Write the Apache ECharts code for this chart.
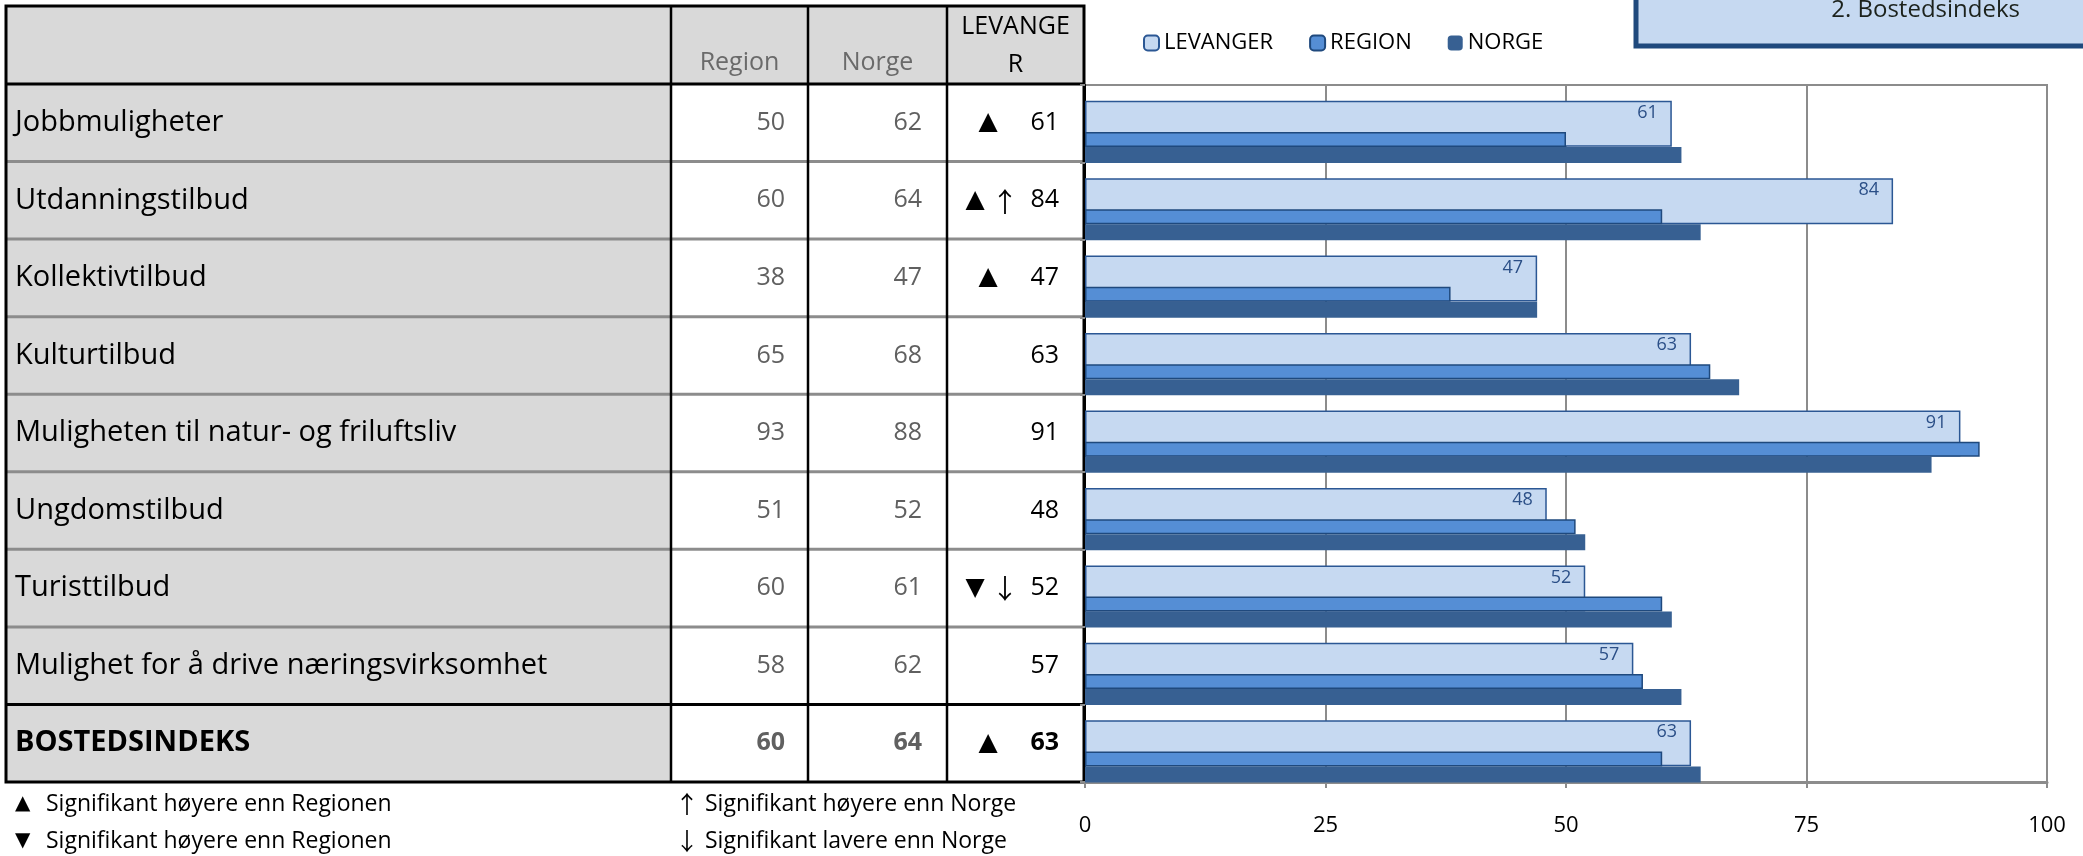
<!DOCTYPE html>
<html>
<head>
<meta charset="utf-8">
<script src="https://cdn.jsdelivr.net/npm/echarts@6/dist/echarts.min.js"></script>
<style>
html,body{margin:0;padding:0;background:#fff}
#main{width:2083px;height:856px}
</style>
</head>
<body>
<div id="main"></div>
<script>
// data
var categories = ['Jobbmuligheter', 'Utdanningstilbud', 'Kollektivtilbud', 'Kulturtilbud',
	'Muligheten til natur- og friluftsliv', 'Ungdomstilbud', 'Turisttilbud',
	'Mulighet for å drive næringsvirksomhet', 'BOSTEDSINDEKS'];
var levanger = [61, 84, 47, 63, 91, 48, 52, 57, 63];
var region = [50, 60, 38, 65, 93, 51, 60, 58, 60];
var norge = [62, 64, 47, 68, 88, 52, 61, 62, 64];
// significance marks shown in the LEVANGER column
var sigRegion = ['▲', '▲', '▲', '', '', '', '▼', '', '▲'];
var sigNorge = ['', '↑', '', '', '', '', '↓', '', ''];
var colHeads = ['Region', 'Norge', 'LEVANGE\nR'];
var legendNames = ['LEVANGER', 'REGION', 'NORGE'];
var notesLeft = [['▲', 'Signifikant høyere enn Regionen'], ['▼', 'Signifikant høyere enn Regionen']];
var notesRight = [['↑', 'Signifikant høyere enn Norge'], ['↓', 'Signifikant lavere enn Norge']];
var boxTitle = '2. Bostedsindeks';

var FONT = '"Open Sans", "Liberation Sans", sans-serif';
var SYM = '"DejaVu Sans", "Liberation Sans", sans-serif';
var ARROW = '"Noto Sans CJK SC", "DejaVu Sans", sans-serif';

var chartTable = {
	init: function()
	{
		var myChart = echarts.init(document.getElementById('main'));

		// table geometry
		var tL = 6, tR = 1084, tT = 6, hB = 84, tB = 782;
		var cols = [6, 671, 808, 947, 1084];
		var n = categories.length;
		var rowH = (tB - hB) / n;
		var g = [];

		g.push({type: 'rect', shape: {x: tL, y: tT, width: tR - tL, height: hB - tT}, style: {fill: '#D9D9D9'}});
		g.push({type: 'rect', shape: {x: tL, y: hB, width: cols[1] - tL, height: tB - hB}, style: {fill: '#D9D9D9'}});

		// row lines
		for (var k = 1; k < n; k++) {
			var y = hB + k * rowH;
			g.push({type: 'line', shape: {x1: tL, y1: y, x2: tR, y2: y},
				style: {stroke: k == n - 1 ? '#000' : '#8C8C8C', lineWidth: 3}});
		}
		g.push({type: 'line', shape: {x1: tL, y1: hB, x2: tR, y2: hB}, style: {stroke: '#000', lineWidth: 3}});
		for (var c = 1; c < cols.length - 1; c++) {
			g.push({type: 'line', shape: {x1: cols[c], y1: tT, x2: cols[c], y2: tB}, style: {stroke: '#000', lineWidth: 2.5}});
		}
		g.push({type: 'rect', shape: {x: tL, y: tT, width: tR - tL, height: tB - tT},
			style: {fill: null, stroke: '#000', lineWidth: 3}});

		// header
		for (var h = 0; h < colHeads.length; h++) {
			var last = h == colHeads.length - 1;
			g.push({type: 'text', x: (cols[h + 1] + cols[h + 2]) / 2, y: last ? 46 : 63,
				style: {text: colHeads[h], font: '25px ' + FONT, fill: last ? '#000' : '#6a6a6a',
					textAlign: 'center', textVerticalAlign: 'middle', lineHeight: 38}});
		}

		// rows
		for (var i = 0; i < n; i++) {
			var cy = hB + (i + 0.5) * rowH;
			var bold = i == n - 1 ? 'bold ' : '';
			g.push({type: 'text', x: 15, y: cy, style: {text: categories[i], font: bold + '29px ' + FONT,
				fill: '#000', textAlign: 'left', textVerticalAlign: 'middle'}});
			g.push({type: 'text', x: 785, y: cy, style: {text: String(region[i]), font: bold + '25px ' + FONT,
				fill: '#606060', textAlign: 'right', textVerticalAlign: 'middle'}});
			g.push({type: 'text', x: 922, y: cy, style: {text: String(norge[i]), font: bold + '25px ' + FONT,
				fill: '#606060', textAlign: 'right', textVerticalAlign: 'middle'}});
			g.push({type: 'text', x: 1059, y: cy, style: {text: String(levanger[i]), font: bold + '25px ' + FONT,
				fill: '#000', textAlign: 'right', textVerticalAlign: 'middle'}});
			if (sigRegion[i]) {
				g.push({type: 'text', x: sigNorge[i] ? 975 : 988, y: cy, style: {text: sigRegion[i], font: '25px ' + SYM,
					fill: '#000', textAlign: 'center', textVerticalAlign: 'middle'}});
			}
			if (sigNorge[i]) {
				g.push({type: 'text', x: 1005, y: cy + 1, style: {text: sigNorge[i], font: '27px ' + ARROW,
					fill: '#000', textAlign: 'center', textVerticalAlign: 'middle'}});
			}
		}

		// footnotes
		var notes = [[15, notesLeft, 'tri'], [675, notesRight, 'arr']];
		for (var s = 0; s < notes.length; s++) {
			for (var f = 0; f < notes[s][1].length; f++) {
				g.push({type: 'text', x: notes[s][0], y: 804 + f * 37, style: {
					text: '{' + notes[s][2] + '|' + notes[s][1][f][0] + '}{t|' + notes[s][1][f][1] + '}',
					font: '23px ' + FONT, fill: '#000', textAlign: 'left', textVerticalAlign: 'middle',
					rich: {
						tri: {fontFamily: SYM, fontSize: 20, fill: '#000', width: 31},
						arr: {fontFamily: ARROW, fontSize: 24, fill: '#000', width: 30},
						t: {fontFamily: FONT, fontSize: 23, fill: '#000'}
					}}});
			}
		}

		// box top right
		g.push({type: 'rect', shape: {x: 1636, y: -12, width: 520, height: 58},
			style: {fill: '#C6D9F1', stroke: '#1F497D', lineWidth: 5}});
		g.push({type: 'text', x: 2020, y: 10, style: {text: boxTitle, font: '24px ' + FONT,
			fill: '#1c221c', textAlign: 'right', textVerticalAlign: 'middle'}});

		var gTop = 85, gBottom = 74, shift = 23.7;
		var option = {
			backgroundColor: '#fff',
			animation: false,
			textStyle: {fontFamily: FONT},
			legend: {
				data: legendNames,
				left: 1138,
				top: 27,
				itemWidth: 15,
				itemHeight: 15,
				itemGap: 36,
				textStyle: {fontSize: 22, color: '#000', fontFamily: FONT}
			},
			grid: [
				{left: 1085, right: 36, top: gTop, bottom: gBottom, show: true,
					backgroundColor: '#fff', borderColor: '#8C8C8C', borderWidth: 2},
				{left: 1085, right: 36, top: gTop + shift, bottom: gBottom - shift}
			],
			xAxis: [
				{type: 'value', gridIndex: 0, min: 0, max: 100, interval: 25,
					axisLine: {show: true, lineStyle: {color: '#8C8C8C', width: 3}},
					axisTick: {show: true, length: 6, lineStyle: {color: '#8C8C8C', width: 2}},
					axisLabel: {fontSize: 22, color: '#000', margin: 33, fontFamily: FONT},
					splitLine: {show: true, lineStyle: {color: '#8C8C8C', width: 2}}},
				{type: 'value', gridIndex: 1, min: 0, max: 100, show: false}
			],
			yAxis: [
				{type: 'category', gridIndex: 0, data: categories, inverse: true,
					axisLabel: {show: false},
					axisLine: {show: true, lineStyle: {color: '#000', width: 2}},
					axisTick: {show: true, length: 5, lineStyle: {color: '#8C8C8C', width: 2}}},
				{type: 'category', gridIndex: 1, data: categories, inverse: true, show: false}
			],
			series: [
				{name: 'LEVANGER', type: 'bar', xAxisIndex: 0, yAxisIndex: 0, data: levanger, barWidth: 46,
					itemStyle: {color: '#C6D9F1', borderColor: '#2B5794', borderWidth: 1.5},
					label: {show: true, position: 'insideTopRight', distance: 3, offset: [-11, 0],
						color: '#2B4F87', fontSize: 18, fontFamily: FONT}},
				{name: 'REGION', type: 'bar', xAxisIndex: 1, yAxisIndex: 1, data: region, barWidth: 15, barGap: '0%',
					itemStyle: {color: '#558ED5', borderColor: '#1F497D', borderWidth: 1.5}},
				{name: 'NORGE', type: 'bar', xAxisIndex: 1, yAxisIndex: 1, data: norge, barWidth: 16, barGap: '0%',
					itemStyle: {color: '#376092', borderColor: '#376092', borderWidth: 0}}
			],
			graphic: g
		};
		myChart.setOption(option);
		window.onresize = myChart.resize;
	}
};
chartTable.init();
</script>
</body>
</html>
